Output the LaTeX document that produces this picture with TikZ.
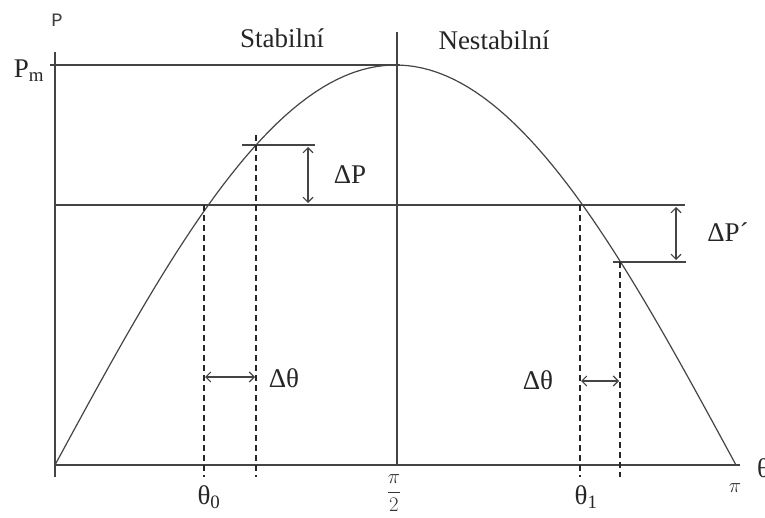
\documentclass[tikz,border=0pt]{standalone}
\usepackage{fontspec}
\setmainfont{Liberation Serif}
\newfontfamily\monofnt{Liberation Mono}
\usetikzlibrary{arrows.meta}
\definecolor{ln}{HTML}{444444}
\begin{document}
\begin{tikzpicture}[x=1pt,y=-1pt,
  axis/.style={draw=ln,line width=1.4pt},
  thin/.style={draw=ln,line width=1.1pt},
  dsh/.style={draw=black!85,line width=1.1pt,dash pattern=on 6pt off 4pt},
  dim/.style={draw=ln,line width=1.1pt,{Straight Barb[length=5pt,width=10pt]}-{Straight Barb[length=5pt,width=10pt]}},
  big/.style={font=\rmfamily\fontsize{27}{30}\selectfont,text=black!85,inner sep=0pt},
  small/.style={font=\fontsize{20}{22}\selectfont,text=black!80,inner sep=0pt}]
\useasboundingbox (0,0) rectangle (765,518);
% axes
\draw[axis] (55,52) -- (55,477);
\draw[axis] (55,465) -- (740,465);
\draw[thin] (50,65) -- (400,65);
\draw[thin] (397,32) -- (397,465);
% curve
\draw[ln,line width=1.2pt] plot[domain=0:180,samples=90] ({55+\x/180*681},{465-400*sin(\x)});
% equilibrium line
\draw[thin] (55,205) -- (685,205);
% Delta P left
\draw[thin] (242,145) -- (315,145);
\draw[dim] (308,147) -- (308,203);
% Delta P right
\draw[thin] (613,262) -- (686,262);
\draw[dim] (676,207) -- (676,260);
% dashed
\draw[dsh] (204,205) -- (204,477);
\draw[dsh] (256,135) -- (256,477);
\draw[dsh] (580,205) -- (580,477);
\draw[dsh] (620,262) -- (620,477);
% delta theta arrows
\draw[dim] (205,377) -- (255,377);
\draw[dim] (581,381) -- (619,381);
% labels
\node[inner sep=0pt,font=\monofnt\fontsize{19}{21}\selectfont,text=black!75] (lP) at (57,20) {P};
\node[big] (lPm) at (29,71) {P\textsubscript{m}};
\node[big] (lst) at (282,38) {Stabilní};
\node[big] (lnst) at (494,40) {Nestabilní};
\node[big] (ldP) at (350,175) {ΔP};
\node[big] (ldP2) at (728,232) {ΔP´};
\node[big] (ldt1) at (284,378) {Δθ};
\node[big] (ldt2) at (538,380) {Δθ};
\node[big] (lt0) at (209,497) {θ\textsubscript{0}};
\node[big] (lt1) at (586,497) {θ\textsubscript{1}};
\node[small] (lhalf) at (394,493) {$\displaystyle\frac{\pi}{2}$};
\node[font=\fontsize{20}{22}\selectfont,text=black!80,inner sep=0pt] (lpi) at (735,488) {$\pi$};
\node[big,anchor=west] (lth) at (757,468) {θ};
\end{tikzpicture}
\end{document}
